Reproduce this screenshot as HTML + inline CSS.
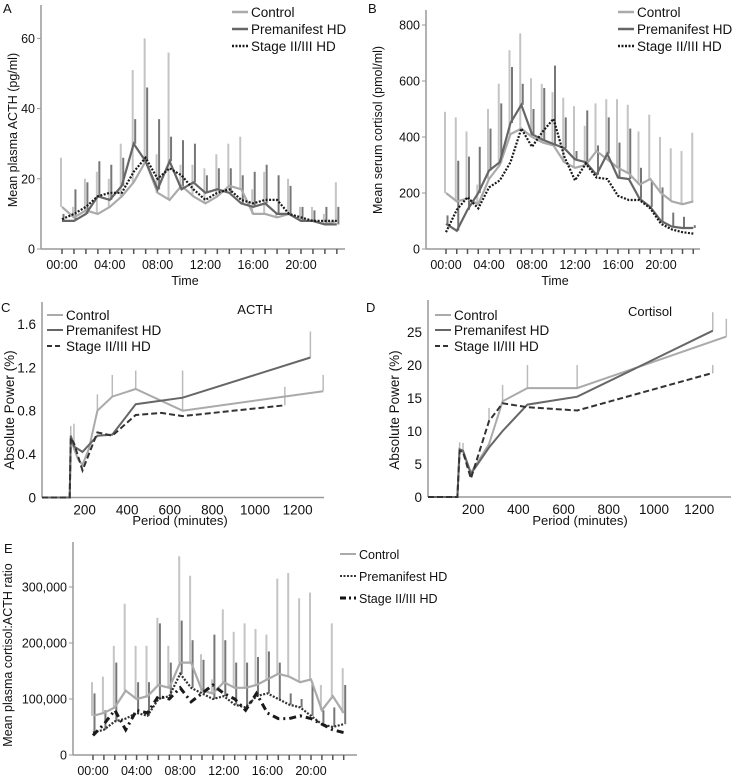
<!DOCTYPE html>
<html><head><meta charset="utf-8"><style>
body{margin:0;background:#fff;}
svg{display:block;font-family:"Liberation Sans",Arial,sans-serif;}
</style></head><body>
<svg id="fig" width="737" height="778" viewBox="0 0 737 778" xmlns="http://www.w3.org/2000/svg"></svg>
<script>
// ---- Panel A: ACTH by hour ----
const hours = [0,1,2,3,4,5,6,7,8,9,10,11,12,13,14,15,16,17,18,19,20,21,22,23];
const hourLabels = ["00:00","04:00","08:00","12:00","16:00","20:00"];
const aControl = [12,9,11,10,12,15,19,25,16,14,18,15,13,15,18,17,10,10,9,10,8,8,7,8];
const aPre = [8,8,10,15,14,18,30,25,17,25,17,19,16,17,16,13,12,13,10,10,8,8,7,7];
const aStage = [8.5,10,12,15,16,16,22,26,20,23,21,17,14,16,17,14,13,14,14,10,9,8,8,8];
const aControlErr = [26,12,20,22,20,30,51,60,27,56,24,24,23,27,30,32,17,22,10,20,12,12,10,19];
const aPreErr = [10,17,19,25,24,26,37,46,37,32,31,30,21,23,23,21,22,24,21,18,12,11,12,12];
const aTicks = [0,20,40,60];
// ---- Panel B: cortisol by hour ----
const bControl = [200,170,180,160,250,300,410,430,400,380,370,310,290,300,350,320,290,270,230,250,200,170,160,170];
const bPre = [90,65,140,200,280,310,450,515,410,390,375,360,320,310,265,340,255,250,180,150,100,80,75,75];
const bStage = [60,140,185,145,220,245,310,430,365,420,465,330,245,305,255,250,190,175,175,145,90,70,60,55];
const bControlErr = [490,470,420,230,500,590,710,770,610,590,560,540,510,440,520,535,535,515,420,480,400,360,350,415];
const bPreErr = [120,315,330,365,430,520,650,590,500,575,655,470,350,495,370,470,380,430,290,240,220,130,115,85];
const bTicks = [0,200,400,600,800];
// ---- Panel C: ACTH power ----
const cCtrlX = [0,130,135,150,170,190,220,260,330,440,660,1320];
const cCtrlY = [0,0,0.55,0.45,0.35,0.3,0.45,0.8,0.93,1.0,0.8,0.98];
const cPreX = [0,130,135,150,190,260,330,440,660,1260];
const cPreY = [0,0,0.57,0.47,0.42,0.57,0.58,0.86,0.92,1.29];
const cStgX = [0,130,135,150,190,260,330,440,560,660,1140];
const cStgY = [0,0,0.55,0.5,0.25,0.6,0.57,0.76,0.78,0.75,0.85];
const cErrX = [135,150,260,330,440,660,1320,1260,1140];
const cErrLo = [0.55,0.45,0.8,0.93,1.0,0.8,0.98,1.29,0.85];
const cErrHi = [0.66,0.68,0.95,1.13,1.17,1.17,1.13,1.53,1.02];
const cTicks = [0,0.4,0.8,1.2,1.6];
const periodTicks = [200,400,600,800,1000,1200];
// ---- Panel D: cortisol power ----
const dCtrlX = [0,130,140,155,190,270,330,440,660,1320];
const dCtrlY = [0,0,7.3,7,3.7,8,14.5,16.5,16.5,24.3];
const dPreX = [0,130,140,155,190,270,330,440,660,1260];
const dPreY = [0,0,7.2,7,3.5,7.5,10,14,15.2,25.2];
const dStgX = [0,130,140,155,190,270,330,440,660,1260];
const dStgY = [0,0,7,6.8,2.8,11.5,14.2,13.6,13.1,18.8];
const dErrX = [140,155,270,330,440,660,1320,1260,1260];
const dErrLo = [7.3,7,11.5,14.5,16.5,16.5,24.3,25.2,18.8];
const dErrHi = [8.3,8.2,13.5,17,20,20,27,28,20];
const dTicks = [0,5,10,15,20,25];
// ---- Panel E: ratio ----
const eControl = [70,75,85,115,100,105,125,120,165,165,115,110,130,120,120,125,135,145,140,130,135,80,105,75];
const ePre = [40,45,60,65,75,70,100,105,145,120,110,100,105,90,85,105,110,100,90,85,70,55,50,55];
const eStage = [35,55,80,45,80,75,105,100,120,95,110,125,110,100,80,110,75,65,65,70,65,55,45,40];
const eControlErr = [130,140,195,270,195,195,245,195,355,320,180,135,260,220,235,225,215,315,325,280,290,125,235,155];
const ePreErr = [110,80,165,65,130,130,235,165,240,205,170,215,205,165,165,175,185,165,110,100,130,80,85,125];
const eTicks = [0,100,200,300];
const eTickLabels = ["0","100,000","200,000","300,000"];

const NS="http://www.w3.org/2000/svg";
const svg=document.getElementById('fig');
function mk(tag,attrs,parent){const e=document.createElementNS(NS,tag);for(const k in attrs)e.setAttribute(k,attrs[k]);(parent||svg).appendChild(e);return e;}
function txt(s,x,y,size,anchor,parent,rot){const t=mk('text',{x:x,y:y,'font-size':size,'text-anchor':anchor||'start',fill:'#111'},parent);if(rot)t.setAttribute('transform','rotate(-90 '+x+' '+y+')');t.textContent=s;return t;}
const C_CTRL='#aaaaaa',C_PRE='#666666',C_STG='#1a1a1a';

function linePath(xs,ys,fx,fy){return xs.map((v,i)=>(i?'L':'M')+fx(v).toFixed(1)+','+fy(ys[i]).toFixed(1)).join('');}

function hourPanel(g,o){
  const fx=h=>o.x0+h*o.step, fy=v=>o.y0-v*o.k;
  mk('line',{x1:o.ax,y1:o.y0,x2:o.ax,y2:o.ytop,stroke:'#999','stroke-width':1.5},g);
  mk('line',{x1:o.ax,y1:o.y0,x2:o.xend,y2:o.y0,stroke:'#999','stroke-width':1.5},g);
  o.ticks.forEach((t,i)=>{mk('line',{x1:o.ax-4,y1:fy(t),x2:o.ax,y2:fy(t),stroke:'#999'},g);
    const l=txt(o.tickLabels?o.tickLabels[i]:String(t),o.ax-6,fy(t)+4.5,12.5,'end',g);
    
    });
  hours.forEach(h=>mk('line',{x1:fx(h),y1:o.y0,x2:fx(h),y2:o.y0+5,stroke:'#555','stroke-width':1.5},g));
  hourLabels.forEach((s,i)=>{const l=txt(s,fx(i*4),o.y0+20,12.5,'middle',g);
    
    });
  hours.forEach(h=>{
    const e1=mk('line',{x1:fx(h)-1,y1:fy(o.ctrl[h]),x2:fx(h)-1,y2:fy(o.ctrlErr[h]),stroke:'#c4c4c4','stroke-width':2},g);
    
    
    const e2=mk('line',{x1:fx(h)+1.5,y1:fy(o.pre[h]),x2:fx(h)+1.5,y2:fy(o.preErr[h]),stroke:'#777','stroke-width':2},g);
    
    
  });
  const p1=mk('path',{d:linePath(hours,o.ctrl,fx,fy),fill:'none',stroke:C_CTRL,'stroke-width':2.2},g);
  
  
  const p2=mk('path',{d:linePath(hours,o.pre,fx,fy),fill:'none',stroke:o.preStyle.c,'stroke-width':o.preStyle.w,'stroke-dasharray':o.preStyle.d||'none'},g);
  
  
  const p3=mk('path',{d:linePath(hours,o.stg,fx,fy),fill:'none',stroke:C_STG,'stroke-width':o.stgStyle.w,'stroke-dasharray':o.stgStyle.d},g);
  
  
}
function periodPanel(g,o){
  const fx=v=>o.x0+v*o.kx, fy=v=>o.y0-v*o.k;
  mk('line',{x1:o.x0,y1:o.y0,x2:o.x0,y2:o.ytop,stroke:'#999','stroke-width':1.5},g);
  mk('line',{x1:o.x0,y1:o.y0,x2:o.xend,y2:o.y0,stroke:'#999','stroke-width':1.5},g);
  o.ticks.forEach(t=>{const l=txt(String(t),o.x0-6,fy(t)+5,13.5,'end',g);
    
    });
  periodTicks.forEach(t=>{const l=txt(String(t),fx(t),o.y0+17,13.5,'middle',g);
    
    });
  o.errX.forEach((v,i)=>{const e=mk('line',{x1:fx(v),y1:fy(o.errLo[i]),x2:fx(v),y2:fy(o.errHi[i]),stroke:'#bbb','stroke-width':1.5},g);
    
    });
  const p1=mk('path',{d:linePath(o.cx,o.cy,fx,fy),fill:'none',stroke:C_CTRL,'stroke-width':2},g);
  
  
  const p2=mk('path',{d:linePath(o.px,o.py,fx,fy),fill:'none',stroke:C_PRE,'stroke-width':2},g);
  
  
  const p3=mk('path',{d:linePath(o.sx,o.sy,fx,fy),fill:'none',stroke:'#333','stroke-width':2,'stroke-dasharray':'6,3'},g);
  
  
}
function legend(g,x,ys,size,styles,names){
  names.forEach((n,i)=>{
    const s=styles[i];
    const l=mk('line',{x1:x,y1:ys[i]-4,x2:x+16,y2:ys[i]-4,stroke:s.c,'stroke-width':s.w,'stroke-dasharray':s.d||'none'},g);
    
    
    const t=txt(n,x+19,ys[i]+1,size,'start',g);
    
    
  });
}
const NAMES=['Control','Premanifest HD','Stage II/III HD'];
const tsStyles=[{c:C_CTRL,w:2.5},{c:C_PRE,w:2.5},{c:C_STG,w:2.5,d:'2,1.5'}];
const pwStyles=[{c:C_CTRL,w:2},{c:C_PRE,w:2},{c:'#333',w:2,d:'5,3'}];

// Panel A
const gA=mk('g',{});


txt('A',3,13,13,'start',gA);
hourPanel(gA,{ax:41,y0:249,ytop:5,xend:345,x0:62,step:11.95,k:3.51,ticks:aTicks,ctrl:aControl,pre:aPre,stg:aStage,ctrlErr:aControlErr,preErr:aPreErr,preStyle:{c:C_PRE,w:2.2},stgStyle:{w:2.2,d:'2,1.5'}});
txt('Time',185,285,12.5,'middle',gA);
txt('Mean plasma ACTH (pg/ml)',17,130,12.5,'middle',gA,true);
legend(gA,232,[16,33,50],13.5,tsStyles,NAMES);

// Panel B
const gB=mk('g',{});


txt('B',368,13,13,'start',gB);
hourPanel(gB,{ax:426,y0:249,ytop:10,xend:700,x0:446,step:10.75,k:0.28,ticks:bTicks,ctrl:bControl,pre:bPre,stg:bStage,ctrlErr:bControlErr,preErr:bPreErr,preStyle:{c:C_PRE,w:2.2},stgStyle:{w:2.2,d:'2,1.5'}});
txt('Time',555,285,12.5,'middle',gB);
txt('Mean serum cortisol (pmol/ml)',382,130,12.5,'middle',gB,true);
legend(gB,618,[16,33,50],13.5,tsStyles,NAMES);

// Panel C
const gC=mk('g',{});


txt('C',1,312,13,'start',gC);
periodPanel(gC,{x0:42,y0:497.5,ytop:302,xend:324,kx:0.213,k:108.5,ticks:cTicks,cx:cCtrlX,cy:cCtrlY,px:cPreX,py:cPreY,sx:cStgX,sy:cStgY,errX:cErrX,errLo:cErrLo,errHi:cErrHi});
txt('ACTH',255,314,13,'middle',gC);
txt('Period (minutes)',180,525,13,'middle',gC);
txt('Absolute Power (%)',14,410,13.5,'middle',gC,true);
legend(gC,47,[319,334,350],13.5,pwStyles,NAMES);

// Panel D
const gD=mk('g',{});


txt('D',366,312,13,'start',gD);
periodPanel(gD,{x0:428,y0:497,ytop:300,xend:731,kx:0.226,k:6.6,ticks:dTicks,cx:dCtrlX,cy:dCtrlY,px:dPreX,py:dPreY,sx:dStgX,sy:dStgY,errX:dErrX,errLo:dErrLo,errHi:dErrHi});
txt('Cortisol',650,316,13,'middle',gD);
txt('Period (minutes)',580,525,13,'middle',gD);
txt('Absolute Power (%)',399,410,13.5,'middle',gD,true);
legend(gD,435,[319,334,350],13.5,pwStyles,NAMES);

// Panel E
const gE=mk('g',{});


txt('E',4,553,13,'start',gE);
hourPanel(gE,{ax:73,y0:755,ytop:542,xend:357,x0:93,step:10.9,k:0.56,ticks:eTicks,tickLabels:eTickLabels,ctrl:eControl,pre:ePre,stg:eStage,ctrlErr:eControlErr,preErr:ePreErr,preStyle:{c:'#333',w:2.2,d:'2,1.5'},stgStyle:{w:3,d:'7,4,2,4'}});
txt('Mean plasma cortisol:ACTH ratio',12,655,12.5,'middle',gE,true);
legend(gE,340,[558,580,602],12.5,[{c:C_CTRL,w:2},{c:'#333',w:2,d:'2,1.5'},{c:'#111',w:3,d:'6,3,2,3'}],NAMES);
</script>
</body></html>
